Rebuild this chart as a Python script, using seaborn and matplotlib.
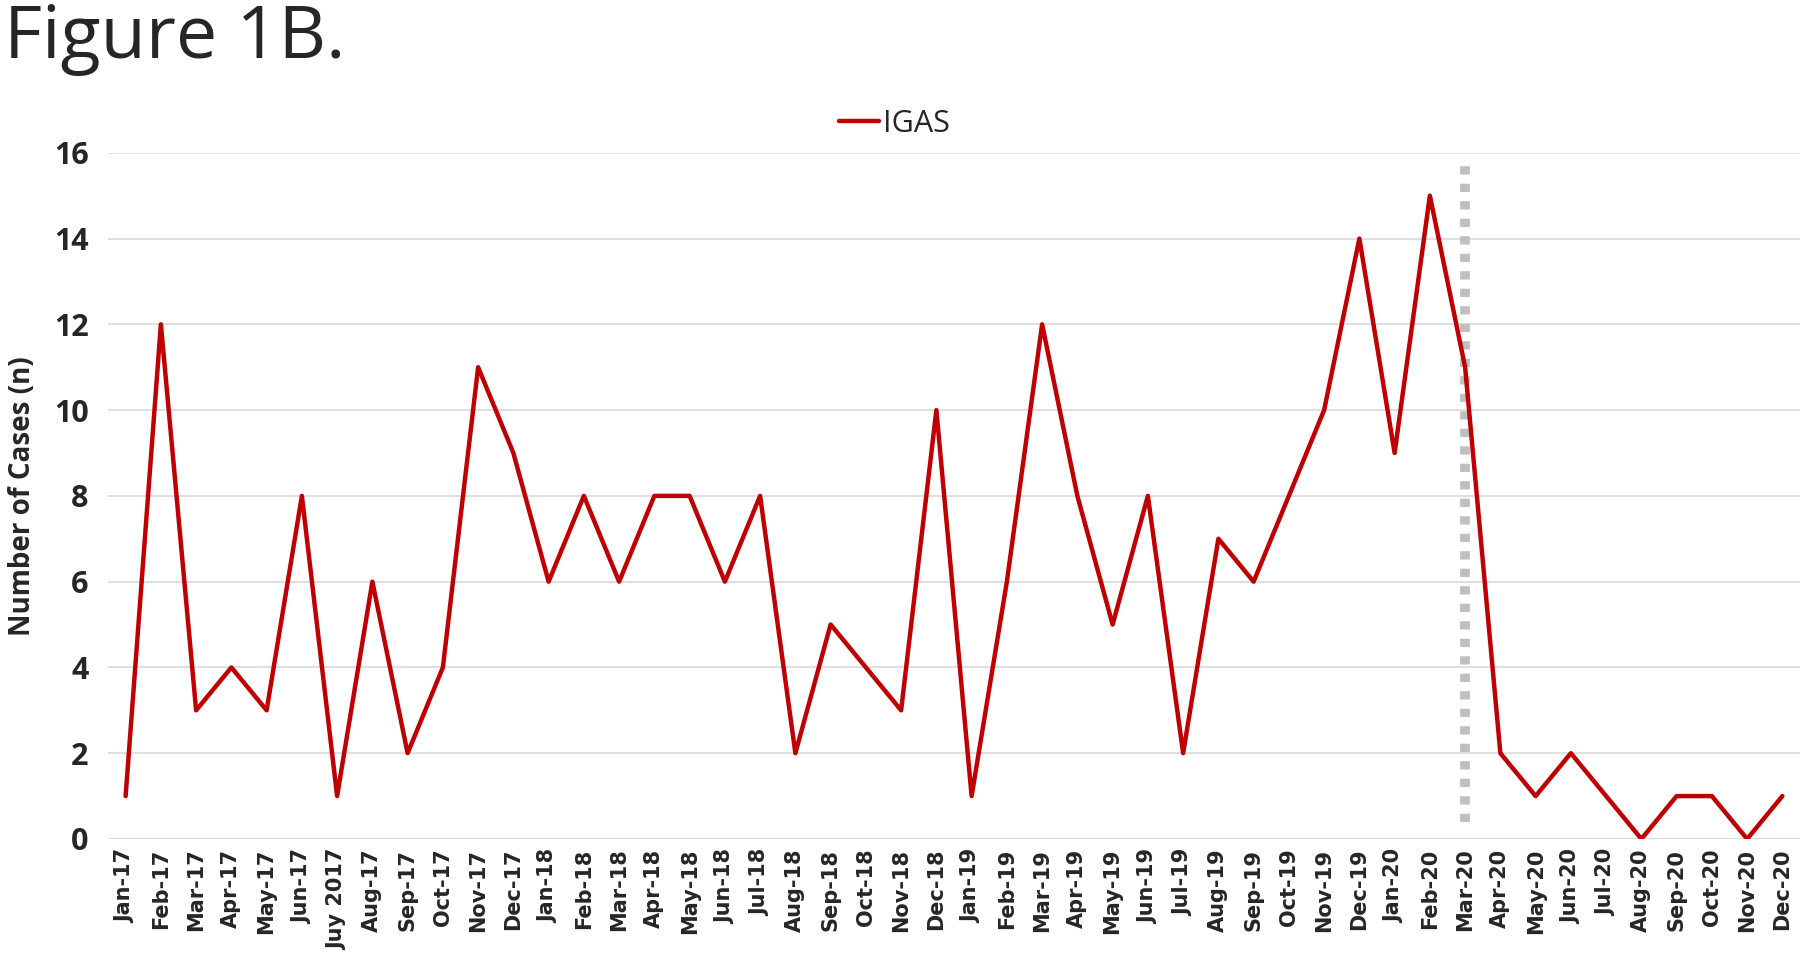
import pandas as pd
import numpy as np
import matplotlib.pyplot as plt
import seaborn as sns

# =========================
# DATA
# =========================
months = ["Jan-17", "Feb-17", "Mar-17", "Apr-17", "May-17", "Jun-17", "Juy 2017", "Aug-17",
          "Sep-17", "Oct-17", "Nov-17", "Dec-17",
          "Jan-18", "Feb-18", "Mar-18", "Apr-18", "May-18", "Jun-18", "Jul-18", "Aug-18",
          "Sep-18", "Oct-18", "Nov-18", "Dec-18",
          "Jan-19", "Feb-19", "Mar-19", "Apr-19", "May-19", "Jun-19", "Jul-19", "Aug-19",
          "Sep-19", "Oct-19", "Nov-19", "Dec-19",
          "Jan-20", "Feb-20", "Mar-20", "Apr-20", "May-20", "Jun-20", "Jul-20", "Aug-20",
          "Sep-20", "Oct-20", "Nov-20", "Dec-20"]
igas = [1, 12, 3, 4, 3, 8, 1, 6, 2, 4, 11, 9,
        6, 8, 6, 8, 8, 6, 8, 2, 5, 4, 3, 10,
        1, 6, 12, 8, 5, 8, 2, 7, 6, 8, 10, 14,
        9, 15, 11, 2, 1, 2, 1, 0, 1, 1, 0, 1]
cutoff_month = "Mar-20"

df = pd.DataFrame({"month": months, "IGAS": igas})

# =========================
# PLOT
# =========================
sns.set_style("white")
plt.rcParams['font.family'] = ['Open Sans', 'DejaVu Sans']

fig = plt.figure(figsize=(18, 9.55), dpi=100)
ax = fig.add_axes([0.06, 0.1215, 0.94, 0.7185])

sns.lineplot(data=df, x="month", y="IGAS", sort=False, color="#C00000",
             linewidth=3.2, label="IGAS", ax=ax)

# dotted marker at the cutoff month
cut = months.index(cutoff_month)
ax.plot([cut, cut], [0.4, 15.7], color="#BFBFBF", linewidth=7,
        linestyle=(0, (0.85, 0.95)), zorder=1)

ax.set_xlim(-0.5, len(months) - 0.5)
ax.set_ylim(0, 16)
ax.set_yticks(range(0, 17, 2))
ax.yaxis.grid(True, color="#D9D9D9", linewidth=1.2)
ax.xaxis.grid(False)
for s in ["top", "right", "left", "bottom"]:
    ax.spines[s].set_visible(False)
ax.axhline(0, color="#D9D9D9", linewidth=1.2, zorder=0)

ax.set_xticks(range(len(months)))
ax.set_xticklabels(months, rotation=90, fontsize=15, fontweight="bold",
                   family="DejaVu Sans")
for t in ax.get_yticklabels():
    t.set_fontsize(22)
    t.set_fontweight("bold")
ax.tick_params(axis="y", length=0, pad=14)
ax.tick_params(axis="x", length=0, pad=7)

ax.set_xlabel("")
ax.set_ylabel("Number of Cases (n)", fontsize=20, fontweight="bold", labelpad=12)

ax.legend(loc="lower center", bbox_to_anchor=(0.465, 0.98), frameon=False,
          fontsize=22, handlelength=1.3, handletextpad=0.15)

fig.text(0.002, 0.998, "Figure 1B.", fontsize=53, fontweight="normal",
         ha="left", va="top")

plt.savefig("out.png", dpi=100)
